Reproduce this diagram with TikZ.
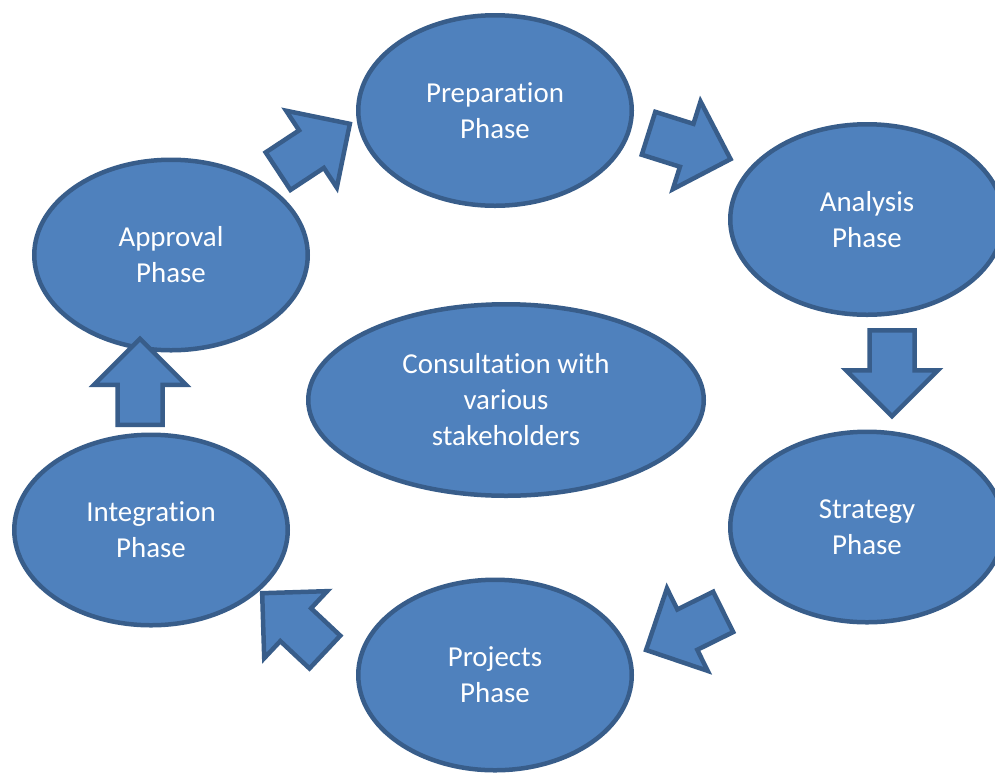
\documentclass[tikz,border=0pt]{standalone}
\usepackage{fontspec}
\setmainfont[Ligatures={NoCommon}]{Carlito}
\usetikzlibrary{shapes.geometric, shapes.arrows}

\definecolor{phasefill}{HTML}{4F81BD}
\definecolor{phaseline}{HTML}{385D8A}

\begin{document}
\begin{tikzpicture}[x=0.5pt, y=-0.5pt, line width=2.25pt,
	phase/.style={ellipse, draw=phaseline, fill=phasefill, text=white, align=center, inner sep=0pt, minimum width=136.75pt, minimum height=95.25pt, font=\fontsize{14.45}{18}\selectfont},
	flow/.style={single arrow, draw=phaseline, fill=phasefill, inner xsep=0pt, inner ysep=10.125pt, minimum height=43pt, single arrow head extend=11.75pt, single arrow tip angle=90, anchor=tail} ]
			\useasboundingbox (0,0) rectangle (995,772);
			
			%Phases:
			\node[phase]	(Prep)	at (495,110.5)	{Preparation\\Phase};
			\node[phase]	(Anly)	at (867,219.5)	{Analysis\\Phase};
			\node[phase]	(Strat)	at (867,527)	{Strategy\\Phase};
			\node[phase]	(Proj)	at (495,675)	{Projects\\Phase};
			\node[phase]	(Integ)	at (151,530)	{Integration\\Phase};
			\node[phase]	(Appr)	at (171,255)	{Approval\\Phase};
			\node[phase, minimum width=197.75pt, minimum height=95.75pt]	(Cons)	at (506,400)	{Consultation with\\various\\stakeholders};
			
			%Arrows between phases (tail, direction):
			\node[flow, rotate=90]		(IntegAppr)	at (140,427)		{};
			\node[flow, rotate=33.4]	(ApprPrep)	at (276.2,172.4)	{};
			\node[flow, rotate=-17.5]	(PrepAnly)	at (646.4,132.6)	{};
			\node[flow, rotate=-90]		(AnlyStrat)	at (892,328)		{};
			\node[flow, rotate=206.3]	(StratProj)	at (725.2,610.9)	{};
			\node[flow, rotate=136.8]	(ProjInteg)	at (326.5,653.6)	{};
		\end{tikzpicture}
\end{document}
